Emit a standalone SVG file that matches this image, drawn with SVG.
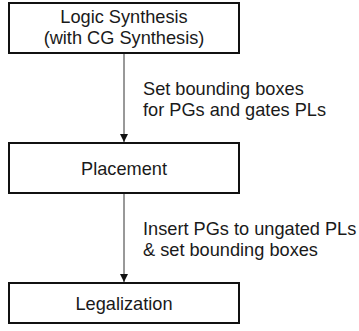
<svg xmlns="http://www.w3.org/2000/svg" width="359" height="331" viewBox="0 0 359 331">
  <style>
    .box { fill: #ffffff; stroke: #111111; stroke-width: 2; }
    .label { font-family: "Liberation Sans", Arial, sans-serif; font-size: 18.2px; fill: #1a1a1a; }
    .mid { text-anchor: middle; }
    .edge { stroke: #333333; stroke-width: 1; fill: none; }
  </style>
  <defs>
    <marker id="arrow" viewBox="0 0 10 10" refX="10" refY="5" markerWidth="8" markerHeight="8" markerUnits="userSpaceOnUse" orient="auto">
      <path d="M0,0 L10,5 L0,10 Z" fill="#111111"/>
    </marker>
  </defs>
  <rect width="359" height="331" fill="#ffffff"/>

  <g id="connectors">
    <line class="edge" x1="124" y1="53" x2="124" y2="142" marker-end="url(#arrow)"/>
    <text class="label" x="143" y="95">Set bounding boxes</text>
    <text class="label" x="143" y="116">for PGs and gates PLs</text>
    <line class="edge" x1="124" y1="193" x2="124" y2="282" marker-end="url(#arrow)"/>
    <text class="label" x="143" y="235">Insert PGs to ungated PLs</text>
    <text class="label" x="143" y="256">&amp; set bounding boxes</text>
  </g>

  <g id="logic-synthesis">
    <rect class="box" x="9" y="3" width="230" height="50"/>
    <text class="label mid" x="124" y="23">Logic Synthesis</text>
    <text class="label mid" x="124" y="44">(with CG Synthesis)</text>
  </g>

  <g id="placement">
    <rect class="box" x="9" y="143" width="230" height="50"/>
    <text class="label mid" x="124" y="175">Placement</text>
  </g>

  <g id="legalization">
    <rect class="box" x="9" y="283" width="230" height="40"/>
    <text class="label mid" x="124" y="310">Legalization</text>
  </g>
</svg>
